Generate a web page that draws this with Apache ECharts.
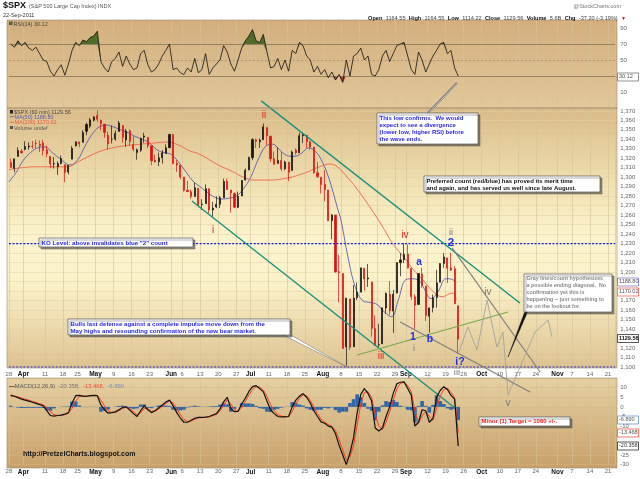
<!DOCTYPE html>
<html><head><meta charset="utf-8">
<script src="https://cdn.jsdelivr.net/npm/echarts@6/dist/echarts.min.js"></script>
<style>html,body{margin:0;padding:0;background:#fff;}#chart{width:640px;height:479px;}</style>
</head><body><div id="chart"></div>
<script>
// ---------- categories (trading days) ----------
const holidays = ['2011-04-22','2011-05-30','2011-07-04','2011-09-05','2011-11-24'];
const tradingDays = [];
(function(){ const d = new Date(Date.UTC(2011,2,28));
  while (tradingDays.length < 168) { const wd = d.getUTCDay(); const s = d.toISOString().slice(0,10);
    if (wd !== 0 && wd !== 6 && holidays.indexOf(s) < 0) tradingDays.push(s); d.setUTCDate(d.getUTCDate()+1); } })();

const tickLabels = [[0,'28'],[4,'Apr'],[10,'11'],[15,'18'],[19,'25'],[24,'May'],[29,'9'],[34,'16'],[39,'23'],
  [45,'Jun'],[48,'6'],[53,'13'],[58,'20'],[63,'27'],[67,'Jul'],[72,'11'],[77,'18'],[82,'25'],[87,'Aug'],[92,'8'],
  [97,'15'],[102,'22'],[107,'29'],[110,'Sep'],[116,'12'],[121,'19'],[126,'26'],[131,'Oct'],[136,'10'],[141,'17'],
  [146,'24'],[152,'Nov'],[156,'7'],[161,'14'],[166,'21']];
const monthNames = ['Apr','May','Jun','Jul','Aug','Sep','Oct','Nov'];

// ---------- price (daily OHLC) ----------
const open = [1315.5,1309.4,1321.9,1327.4,1329.5, 1332.0,1332.6,1335.9,1334.8,1336.2, 1329.0,1321.9,1314.0,1311.1,1314.5,
 1313.3,1305.6,1319.1,1333.2, 1337.1,1336.8,1348.4,1353.9,1360.1, 1365.2,1359.8,1355.9,1344.2,1340.2,
 1340.2,1348.3,1354.5,1339.4,1349.0, 1334.2,1326.1,1328.5,1342.4,1342.0, 1333.1,1317.7,1316.4,1320.6,1325.1,
 1331.1,1345.2,1314.6,1312.9, 1300.3,1286.3,1284.6,1279.6,1288.3, 1271.3,1272.2,1287.9,1265.5,1268.6,
 1271.5,1278.4,1295.5,1286.6,1283.0, 1268.4,1280.2,1296.9,1307.6,1320.6, 1339.6,1337.6,1339.6,1352.4,
 1343.3,1319.6,1314.5,1317.7,1308.9, 1316.0,1307.1,1328.7,1325.7,1343.8, 1344.3,1337.4,1331.9,1304.8,1300.1,
 1292.6,1286.6,1254.3,1260.2,1200.4, 1198.5,1121.3,1171.8,1121.3,1172.9, 1178.9,1204.2,1192.9,1189.6,1140.5,
 1123.6,1124.4,1162.2,1176.7,1158.9, 1177.9,1209.8,1213.0,1219.1,1203.9, 1174.0,1165.9,1198.0,1185.4,
 1153.5,1162.6,1173.3,1189.4,1209.2, 1215.0,1204.5,1203.6,1164.6];
const high = [1319.7,1319.4,1331.7,1329.8,1337.9, 1336.7,1338.2,1339.6,1338.8,1339.5, 1333.2,1321.9,1321.4,1316.8,1322.9,
 1313.3,1312.7,1332.7,1337.5, 1337.6,1349.6,1357.5,1362.6,1364.6, 1370.6,1360.8,1355.9,1348.0,1354.4,
 1349.4,1359.4,1354.5,1351.0,1350.5, 1343.3,1330.4,1341.8,1346.8,1342.0, 1333.1,1323.7,1325.9,1328.5,1334.6,
 1345.2,1345.2,1318.0,1312.9, 1300.3,1296.2,1287.0,1294.5,1288.3, 1277.0,1292.5,1287.9,1274.1,1279.8,
 1280.4,1298.6,1298.6,1286.8,1283.9, 1284.9,1296.8,1309.2,1321.9,1341.0, 1340.9,1340.9,1356.5,1352.4,
 1343.3,1327.2,1331.5,1326.9,1317.5, 1316.0,1328.1,1330.4,1347.0,1346.1, 1344.3,1338.5,1331.9,1316.3,1300.1,
 1307.4,1286.6,1261.2,1260.2,1218.0, 1198.5,1172.9,1171.8,1186.3,1189.0, 1204.5,1204.2,1208.5,1189.6,1154.5,
 1145.5,1162.4,1178.5,1190.7,1181.2, 1210.3,1220.1,1230.7,1229.3,1203.9, 1176.4,1198.6,1204.4,1185.4,
 1162.5,1176.4,1202.4,1209.1,1220.1, 1215.0,1220.4,1206.3,1164.6];
const low = [1310.2,1305.3,1321.9,1325.0,1328.3, 1329.1,1330.0,1330.7,1326.6,1322.9, 1321.1,1309.5,1309.2,1302.4,1313.7,
 1294.7,1303.0,1319.1,1332.5, 1331.7,1336.8,1344.3,1351.7,1358.7, 1358.6,1349.5,1341.5,1329.2,1335.6,
 1338.6,1348.3,1336.4,1332.0,1333.4, 1327.3,1318.5,1326.6,1336.4,1330.7, 1312.6,1315.4,1311.8,1314.4,1325.1,
 1331.1,1313.7,1305.6,1297.9, 1284.9,1284.7,1277.4,1279.6,1268.3, 1265.6,1272.2,1261.9,1258.1,1267.4,
 1267.6,1278.4,1286.8,1262.7,1267.2, 1267.5,1280.2,1296.9,1307.6,1318.0, 1330.9,1330.9,1339.6,1333.7,
 1316.4,1313.3,1314.5,1306.5,1307.4, 1295.9,1307.1,1323.7,1325.7,1336.0, 1331.1,1329.1,1303.5,1299.2,1282.9,
 1274.7,1254.0,1234.6,1199.5,1168.1, 1119.3,1101.5,1118.0,1121.3,1170.7, 1178.9,1180.5,1184.5,1131.9,1122.1,
 1121.1,1124.4,1156.3,1155.0,1135.9, 1177.9,1195.8,1209.4,1203.9,1170.6, 1140.1,1165.9,1183.3,1148.4,
 1136.1,1157.4,1162.7,1189.4,1204.5, 1188.4,1201.3,1166.2,1114.2];
const close = [1310.2,1319.4,1328.3,1325.8,1332.4, 1332.9,1332.6,1335.5,1333.5,1328.2, 1324.5,1314.2,1314.4,1314.5,1319.7,
 1305.1,1312.6,1330.4,1337.4, 1335.3,1347.2,1355.7,1360.5,1363.6, 1361.2,1356.6,1347.3,1335.1,1340.2,
 1346.3,1357.2,1342.1,1348.7,1337.8, 1329.5,1329.0,1340.7,1343.6,1333.3, 1317.4,1316.3,1320.5,1325.7,1331.1,
 1345.2,1314.6,1312.9,1300.2, 1286.2,1284.9,1279.6,1289.0,1271.0, 1271.8,1287.9,1265.4,1267.6,1271.5,
 1278.4,1295.5,1287.1,1283.5,1268.5, 1280.1,1296.7,1307.4,1320.6,1339.7, 1337.9,1339.2,1353.2,1343.8,
 1319.5,1313.6,1317.7,1308.9,1316.1, 1305.4,1326.7,1325.8,1343.8,1345.0, 1337.4,1331.9,1304.9,1300.7,1292.3,
 1286.9,1254.1,1260.3,1200.1,1199.4, 1119.5,1172.5,1120.8,1172.6,1178.8, 1204.5,1192.8,1193.9,1140.7,1123.5,
 1123.8,1162.4,1177.6,1159.3,1176.8, 1210.1,1212.9,1218.9,1204.4,1174.0, 1165.2,1198.6,1185.9,1154.2,
 1162.3,1172.9,1188.7,1209.1,1216.0, 1204.1,1202.1,1166.8,1129.56];

// moving averages [dayPosition, value]
const ma50 = [[0,1295],[2,1305],[4,1318],[6,1326],[8,1331],[10,1332],[12,1326],[14,1320],[17,1313],[19,1318],[21,1332],
 [23,1345],[25,1353],[27,1355],[29,1353],[31,1350],[33,1347],[35,1343],[37,1340],[39,1336],[41,1329],[43,1326],[45,1324],
 [47,1316],[49,1306],[51,1296],[53,1290],[55,1284],[57,1279],[59,1277],[61,1278],[63,1280],[65,1288],[67,1300],[69,1318],
 [71,1332],[73,1335],[75,1329],[77,1323],[79,1322],[81,1325],[83,1331],[85,1327],[87,1315],[89,1295],[91,1268],[92,1255],
 [94,1215],[96,1184],[98,1170],[100,1168],[102,1166],[104,1158],[106,1153],[108,1172],[110,1192],[112,1193],[114,1190],
 [115,1183],[117,1172],[119,1180],[121,1193],[122,1193],[123,1192],[124,1189]];
const ma200 = [[0,1308],[7,1311],[16,1311],[20,1318],[25,1327],[30,1332],[34,1334],[40,1336],[44,1337],[47,1334],[50,1328],
 [53,1324],[58,1313],[62,1306],[65,1300],[68,1297],[72,1297],[77,1299],[80,1302],[83,1306],[86,1311],[89,1314],[91,1311],
 [94,1299],[97,1285],[101,1263],[104,1245],[106,1232],[108,1222],[110,1213],[112,1203],[114,1195],[116,1186],[118,1178],
 [120,1174],[122,1177],[123,1178],[124,1171]];

// ---------- RSI(14) ----------
const rsi = [70,66,74,68,72, 65,62,66,58,50, 48,36,30,38,44, 31,45,62,72, 68,75,73,78,80, 86,48,40,35,48,
 52,60,42,55,45, 38,40,58,62,44, 35,38,45,55,62, 70,38,40,34, 32,40,35,52,34, 38,58,32,40,45, 50,68,60,45,36,
 50,65,74,80,88, 74,72,82,60, 40,42,52,38,50, 36,62,58,72,68, 55,50,35,42,32, 38,28,35,25,32, 22,50,30,55,58,
 65,50,55,32,30, 38,55,62,48,58, 68,70,72,55,38, 32,60,50,35, 45,55,62,70,72, 58,62,40,30.12];

// ---------- MACD(12,26,9) ----------
const macd = [6.1,5.5,4.8,4,3.5, 3,2.4,1.8,1.2,0.5, -2,-4.5,-4.8,-4.5,-4.3, -3.8,-3,2,5.8, 6,5.6,5.5,5.8,6,
 5.8,1,-1.5,-3.3,-3, -2.6,-1.5,-0.3,0,-1.7, -3.5,-5,-2,0.5,-1.5, -3,-2,-0.5,1,2.5, 3.5,0.5,-3,-5.8,
 -8,-8,-7,-5.9,-5.5, -5.5,-5.3,-5,-4.2,-3.5, -1,2.6,5,-1,-2.5, -2.3,1.5,4.5,8,10.5, 11,9.5,7.8,3,
 -1.5,-3.5,-5,-5.2,-5.2, -5,0,3.5,5.5,6.9, 5,2,-2,-5,-7.8, -8.5,-10,-10.5,-14,-20, -25,-30,-24,-16,-3,
 6.5,9.5,7,3,-11, -12.5,-11,-5,0,7, 12,12.8,13,9.5,6, -10,-8,-1.5,-2, -8,-6,5,8.5,10.5, 9,6,4,-20.358];
const signal = [5.5,5.6,5.2,4.6,4, 3.5,2.9,2.3,1.7,1.1, -0.3,-2.5,-4,-4.5,-4.4, -4,-3.3,-0.8,3, 5.3,5.7,5.6,5.7,5.9,
 5.9,3.5,0.5,-2,-3, -2.8,-2,-0.9,-0.2,-0.9, -2.5,-4.2,-3.2,-0.8,-1, -2.3,-2.2,-1.2,0.2,1.8, 3,2,-1,-4,
 -6.5,-7.7,-7.3,-6.5,-5.8, -5.6,-5.4,-5.2,-4.6,-3.9, -2.2,0.8,3.7,1.5,-1.5, -2.3,-0.5,2.8,6.2,9, 10.5,10.2,8.8,5.5,
 1.2,-2,-4,-4.8,-5.1, -5.1,-2.5,1.5,4.3,6.2, 5.8,3.5,0,-3.5,-6.3, -8,-9.2,-10.2,-12.3,-17, -22.5,-27.5,-26,-20,-9.5,
 1.5,7.5,8,5,-4, -10,-11.8,-8,-2.5,3.5, 9.5,12.2,12.8,11,7.8, -2,-8.5,-4.5,-2.5, -5,-7,-1,5.5,9, 9.8,7.5,5,-13.468];
const histogram = [0.6,-0.1,-0.4,-0.6,-0.5, -0.5,-0.5,-0.5,-0.5,-0.6, -1.7,-2,-0.8,0,0.1, 0.2,0.3,2.8,2.8, 0.7,-0.1,-0.1,0.1,0.1,
 -0.1,-2.5,-2,-1.3,0, 0.2,0.5,0.6,0.2,-0.8, -1,-0.8,1.2,1.3,-0.5, -0.7,0.2,0.7,0.8,0.7, 0.5,-1.5,-2,-1.8,
 -1.5,-0.3,0.3,0.6,0.3, 0.1,0.1,0.2,0.4,0.4, 1.2,1.8,1.3,-2.5,-1, 0,2,1.7,1.8,1.5, 0.5,-0.7,-1,-2.5,
 -2.7,-1.5,-1,-0.4,-0.1, 0.1,2.5,2,1.2,0.7, -0.8,-1.5,-2,-1.5,-1.5, -0.5,-0.8,-0.3,-1.7,-3, -2.5,-2.5,2,4,6.5,
 5,2,-1,-2,-7, -2.5,0.8,3,2.5,3.5, 2.5,0.6,0.2,-1.5,-1.8, -8,0.5,3,0.5, -3,1,6,3,1.5, -0.8,-1.5,-1,-6.89];

// ---------- annotation lines [dayPosition, price] ----------
const tealUpper = [[69.9,1380.5],[141.6,1167.5]];
const tealLower = [[50.7,1275],[123.6,1056.7]];
const grayUpper = [[122.8,1225.5],[147.2,1094.7]];
const grayLower = [[108.4,1147.4],[144.4,1073.6]];
const greenLine = [[96.5,1112.6],[138.3,1158]];
const grayPath = [[124.7,1115.8],[127.2,1142.2],[129.7,1117.9],[132.5,1170.6],[135.2,1121],[136.9,1136.9],
 [138.3,1070.4],[145.8,1136.9],[149.4,1149.5],[150.5,1131.6]];
const koLevel = 1230, floorLevel = 1100;

// ---------- build ----------
const labelMap = {}; tickLabels.forEach(t => { labelMap[t[0]] = t[1]; });
const FONT = '"Liberation Sans", Arial, sans-serif';
const ohlc = open.map((o,i) => [o, close[i], low[i], high[i]]);
const rsiG0 = rsi.map(v => v > 70 ? 70 : v), rsiG1 = rsi.map(v => v > 70 ? v - 70 : 0);
const rsiR0 = rsi.map(v => v < 30 ? v : 30), rsiR1 = rsi.map(v => v < 30 ? 30 - v : 0);

function catAxis(grid, showLabel) {
  return { type:'category', gridIndex:grid, data:tradingDays, boundaryGap:true,
    axisLine:{show:false}, axisTick:{show:false},
    axisLabel:{ show:showLabel, interval:(i)=> labelMap[i] !== undefined, margin:showLabel?4:0, padding:[0,3.6,0,0],
      formatter:(v,i)=>{ const t = labelMap[i]; if (t === undefined) return ''; return monthNames.indexOf(t) >= 0 ? '{m|'+t+'}' : '{d|'+t+'}'; },
      rich:{ m:{fontSize:6.5, fontWeight:'bold', color:'#111', fontFamily:FONT}, d:{fontSize:6, color:'#666', fontFamily:FONT} } },
    splitLine:{ show:true, interval:(i)=> labelMap[i] !== undefined, lineStyle:{color:'#d4c29a', width:0.6} } };
}
const yLab = {fontSize:6, color:'#666', margin:5, fontFamily:FONT};

function lineS(data, color, width, extra) {
  return Object.assign({ type:'line', xAxisIndex:3, yAxisIndex:1, data, symbol:'none', clip:false, silent:true,
    lineStyle:{color, width}, z:4 }, extra || {});
}

function txt(x, y, text, font, fill, extra) {
  return Object.assign({ type:'text', x, y, z:100, style:{ text, font, fill, textVerticalAlign:'top', verticalAlign:'top' } }, extra || {});
}
function box(x, y, w, h, text, font, fill, lh) {
  return { type:'group', z:100, children:[
    { type:'rect', z:100, shape:{x, y, width:w, height:h}, style:{fill:'#fff', stroke:'#555', lineWidth:0.7, shadowColor:'rgba(60,60,60,0.55)', shadowOffsetX:2, shadowOffsetY:2, shadowBlur:0} },
    { type:'text', z:101, x:x+2.5, y:y+1.2, style:{text, font, fill, lineHeight:lh, verticalAlign:'top', textVerticalAlign:'top'} } ] };
}
function valBox(y, text, stroke, color, bold) {
  return { type:'group', z:100, children:[
    { type:'rect', z:100, shape:{x:617.5, y:y-4, width:21, height:8}, style:{fill:'#fff', stroke, lineWidth:0.7} },
    { type:'text', z:101, x:619, y:y-3.3, style:{text, font:(bold?'bold ':'')+'5.5px '+FONT, fill:color, verticalAlign:'top', textVerticalAlign:'top'} } ] };
}
function wave(x, y, text, color, size, bold) {
  return { type:'text', z:100, x, y, style:{text, font:(bold?'bold ':'')+size+'px '+FONT, fill:color, textAlign:'center', align:'center', verticalAlign:'middle', textVerticalAlign:'middle'} };
}
function grad(stops) {
  return {type:'linear', x:0, y:0, x2:0, y2:1, colorStops: stops.map(function(c){ return {offset:c[0], color:c[1]}; })};
}

const RED = '#e8251b', BLUE = '#1f32e8', GRAY = '#7c7c7c';

const graphics = [
  // panel backgrounds
  { type:'rect', z:-10, shape:{x:7, y:20, width:610, height:88}, style:{fill:grad([[0,'#d3ae7d'],[1,'#e2c89b']])} },
  { type:'rect', z:-10, shape:{x:7, y:108, width:610, height:260}, style:{fill:grad([[0,'#d9ba88'],[0.3,'#f1e1b2'],[0.5,'#fcf4cf'],[0.68,'#fbf1c9'],[1,'#ddc290']])} },
  { type:'rect', z:-10, shape:{x:7, y:378, width:610, height:90}, style:{fill:grad([[0,'#e6d0a2'],[1,'#c8a06a']])} },
  { type:'rect', z:50, shape:{x:7, y:20, width:610, height:88}, style:{fill:'none', stroke:'#a08a68', lineWidth:0.6} },
  { type:'rect', z:50, shape:{x:7, y:108, width:610, height:260}, style:{fill:'none', stroke:'#a08a68', lineWidth:0.6} },
  { type:'rect', z:50, shape:{x:7, y:378, width:610, height:90}, style:{fill:'none', stroke:'#a08a68', lineWidth:0.6} },
  // header
  txt(3, 1, '$SPX', 'bold 9px '+FONT, '#111'),
  txt(29, 3, '(S&P 500 Large Cap Index) INDX', '5.5px '+FONT, '#555'),
  txt(3, 12.5, '22-Sep-2011', '5.5px '+FONT, '#333'),
  { type:'text', z:100, x:621, y:3, style:{text:'@StockCharts.com', font:'5.5px '+FONT, fill:'#777', textAlign:'right', align:'right', verticalAlign:'top', textVerticalAlign:'top'} },
  { type:'text', z:100, x:626, y:12.5, style:{ textAlign:'right', align:'right', verticalAlign:'top', textVerticalAlign:'top',
     text:'{b|Open} {n|1164.55} {b|High} {n|1164.55} {b|Low} {n|1114.22} {b|Close} {n|1129.56} {b|Volume} {n|5.6B} {b|Chg} {n|-37.20 (-3.19%)} {r|▼}',
     rich:{ b:{font:'bold 5.6px '+FONT, fill:'#111'}, n:{font:'5.6px '+FONT, fill:'#444'}, r:{font:'5px '+FONT, fill:'#d00'} } } },
  // legends
  { type:'rect', z:100, shape:{x:9, y:21.5, width:3.5, height:3.5}, style:{fill:'#4d6b2a'} },
  txt(13.5, 21, 'RSI(14) 30.12', '5.5px '+FONT, '#444'),
  { type:'rect', z:100, shape:{x:10, y:110, width:3, height:3.5}, style:{fill:'#222'} },
  txt(14, 109.3, '$SPX (60 min) 1129.56', '5.5px '+FONT, '#444'),
  { type:'rect', z:100, shape:{x:10, y:116.3, width:4, height:0.8}, style:{fill:'#5a5ab0'} },
  txt(14.5, 114.3, 'MA(50) 1188.80', '5.5px '+FONT, '#5a5ab0'),
  { type:'rect', z:100, shape:{x:10, y:121.8, width:4, height:0.8}, style:{fill:'#e85a48'} },
  txt(14.5, 119.8, 'MA(200) 1170.02', '5.5px '+FONT, '#e85a48'),
  { type:'rect', z:100, shape:{x:10, y:126, width:3, height:3}, style:{fill:'#555'} },
  txt(14, 125.3, 'Volume undef', '5.5px '+FONT, '#555'),
  { type:'text', z:100, x:9, y:380, style:{ verticalAlign:'top', textVerticalAlign:'top',
     text:'{k|—}{n|MACD(12,26,9)} {g|-20.358,} {r|-13.468,} {bl|-6.890}',
     rich:{ k:{font:'bold 5.8px '+FONT, fill:'#111'}, n:{font:'5.8px '+FONT, fill:'#555'}, g:{font:'5.8px '+FONT, fill:'#777'}, r:{font:'5.8px '+FONT, fill:'#f05040'}, bl:{font:'5.8px '+FONT, fill:'#7090b8'} } } },
  txt(23, 451, 'http://PretzelCharts.blogspot.com', 'bold 7px '+FONT, '#111'),
  // pointers
  { type:'polyline', z:99, shape:{points:[[428,113],[457,83]]}, style:{stroke:'#777', lineWidth:2.2, fill:'none'} },
  { type:'polyline', z:99, shape:{points:[[428.5,113],[457,83.5]]}, style:{stroke:'#eee', lineWidth:0.7, fill:'none'} },
  { type:'polygon', z:99, shape:{points:[[281,334],[289,334],[347,367]]}, style:{fill:'#fff', stroke:'#777', lineWidth:0.6} },
  { type:'polygon', z:99, shape:{points:[[525,311],[528,311],[508,357]]}, style:{fill:'#111', stroke:'#111', lineWidth:0.4} },
  // text boxes
  box(377, 113, 101, 31, 'This low confirms.  We would\nexpect to see a divergence\n(lower low, higher RSI) before\nthe wave ends.', 'bold 6px '+FONT, '#2a2aee', 7.3),
  box(424, 176, 176, 16, 'Preferred count (red/blue) has proved its merit time\nand again, and has served us well since late August.', 'bold 6px '+FONT, '#111', 7.3),
  box(39, 238, 154, 9, 'KO Level: above invalidates blue "2" count', 'bold 6.2px '+FONT, '#2a2aee', 7.3),
  box(68, 319, 222, 16, 'Bulls last defense against a complete impulse move down from the\nMay highs and resounding confirmation of the new bear market.', 'bold 6.1px '+FONT, '#2a2aee', 7.3),
  box(524, 274, 88, 38, 'Gray lines/count hypothesizes\na possible ending diagonal.  No\nconfirmation yet this is\nhappening -- just something to\nbe on the lookout for.', 'bold 5.3px '+FONT, '#888', 7),
  box(479, 417, 91, 9, 'Minor (1) Target = 1060 +/-.', 'bold 6px '+FONT, '#f02020', 7),
  // wave labels
  wave(213, 230, 'i', RED, 10), wave(264, 115, 'ii', RED, 10), wave(381, 356, 'iii', RED, 10), wave(405, 235, 'iv', RED, 10),
  wave(419, 262, 'a', BLUE, 10, true), wave(413, 337, '1', BLUE, 10.5, true), wave(414, 348, 'i', GRAY, 9.5),
  wave(430, 339, 'b', BLUE, 10.5, true), wave(451, 243, '2', BLUE, 11.5, true), wave(451, 232, 'ii', GRAY, 9.5),
  wave(460, 362, 'i?', BLUE, 10.5, true), wave(457, 372, 'iii', GRAY, 9.5), wave(488, 292, 'iv', GRAY, 10), wave(508, 403, 'v', GRAY, 10),
  // right-axis value boxes
  valBox(77, '30.12', '#666', '#555'),
  valBox(282, '1188.80', '#6a6ac0', '#555'),
  valBox(292, '1170.02', '#ee5544', '#555'),
  valBox(338.5, '1129.56', '#111', '#111', true),
  valBox(420, '-6.890', '#5a88cc', '#555'),
  valBox(433, '-13.468', '#ee4433', '#555'),
  valBox(446, '-20.358', '#111', '#333')
];

const option = {
  animation:false,
  textStyle:{fontFamily:FONT},
  grid:[
    {left:8.9, right:24.8, top:20, height:88},
    {left:8.9, right:24.8, top:108, height:259},
    {left:8.9, right:24.8, top:378, height:86.6}
  ],
  xAxis:[ catAxis(0,false), catAxis(1,true), catAxis(2,true),
    {type:'value', gridIndex:1, min:0, max:168, show:false} ],
  yAxis:[
    {type:'value', gridIndex:0, position:'right', min:-10, max:100, interval:20, axisLine:{show:false}, axisTick:{show:false},
      axisLabel:Object.assign({showMinLabel:false, showMaxLabel:false}, yLab), splitLine:{show:false}},
    {type:'value', gridIndex:1, position:'right', min:1100, max:1373, interval:10, axisLine:{show:false}, axisTick:{show:false},
      axisLabel:Object.assign({showMaxLabel:false}, yLab), splitLine:{lineStyle:{color:'#e2d0a2', width:0.5}}},
    {type:'value', gridIndex:2, position:'right', min:-30, max:15, interval:5, axisLine:{show:false}, axisTick:{show:false},
      axisLabel:Object.assign({showMaxLabel:false}, yLab), splitLine:{lineStyle:{color:'#cfb888', width:0.5}}}
  ],
  graphic:{elements:graphics},
  series:[
    // RSI
    {type:'line', xAxisIndex:0, yAxisIndex:0, data:rsiG0, stack:'g', symbol:'none', lineStyle:{width:0, opacity:0}, silent:true},
    {type:'line', xAxisIndex:0, yAxisIndex:0, data:rsiG1, stack:'g', symbol:'none', lineStyle:{width:0, opacity:0}, areaStyle:{color:'#4f6d28', opacity:1}, silent:true},
    {type:'line', xAxisIndex:0, yAxisIndex:0, data:rsiR0, stack:'r', symbol:'none', lineStyle:{width:0, opacity:0}, silent:true},
    {type:'line', xAxisIndex:0, yAxisIndex:0, data:rsiR1, stack:'r', symbol:'none', lineStyle:{width:0, opacity:0}, areaStyle:{color:'#a8463a', opacity:1}, silent:true},
    {type:'line', xAxisIndex:0, yAxisIndex:0, data:rsi, symbol:'none', lineStyle:{color:'#111', width:0.8}, z:5, silent:true,
      markLine:{silent:true, symbol:'none', label:{show:false}, data:[
        {yAxis:70, lineStyle:{color:'#8d7b5b', width:0.9, type:'solid'}},
        {yAxis:30, lineStyle:{color:'#8d7b5b', width:0.9, type:'solid'}},
        {yAxis:50, lineStyle:{color:'#9a8866', width:0.7, type:[2,2]}} ]}},
    // price
    {type:'candlestick', xAxisIndex:1, yAxisIndex:1, data:ohlc, barWidth:1.6, z:3, silent:true,
      itemStyle:{color:'#111', color0:'#e01010', borderColor:'#111', borderColor0:'#e01010', borderWidth:0.7}},
    lineS(ma50, '#5a5ab0', 0.9, {smooth:0.4, z:3}),
    lineS(ma200, '#f0624c', 0.9, {smooth:0.4, z:3}),
    lineS([[0,koLevel],[168,koLevel]], '#1020e0', 1.1, {lineStyle:{color:'#1020e0', width:1.1, type:[2,1.6]}}),
    lineS([[0,floorLevel],[168,floorLevel]], '#1020e0', 1.1, {lineStyle:{color:'#1020e0', width:1.1, type:[2,1.6]}}),
    lineS(tealUpper, '#14907e', 1.3),
    lineS(tealLower, '#14907e', 1.3),
    lineS(greenLine, '#79a94a', 1.1),
    lineS(grayUpper, '#7d7d7d', 1.1),
    lineS(grayLower, '#7d7d7d', 1.1),
    lineS(grayPath, '#a3a3a3', 0.9),
    // MACD
    {type:'bar', xAxisIndex:2, yAxisIndex:2, data:histogram, barWidth:'100%', itemStyle:{color:'#2f66a6'}, silent:true},
    {type:'line', xAxisIndex:2, yAxisIndex:2, data:signal, symbol:'none', lineStyle:{color:'#ff3b26', width:1}, silent:true, z:4},
    {type:'line', xAxisIndex:2, yAxisIndex:2, data:macd, symbol:'none', lineStyle:{color:'#111', width:1.2}, silent:true, z:5}
  ]
};
const chart = echarts.init(document.getElementById('chart'), null, {renderer:'canvas'});
chart.setOption(option);
</script></body></html>
